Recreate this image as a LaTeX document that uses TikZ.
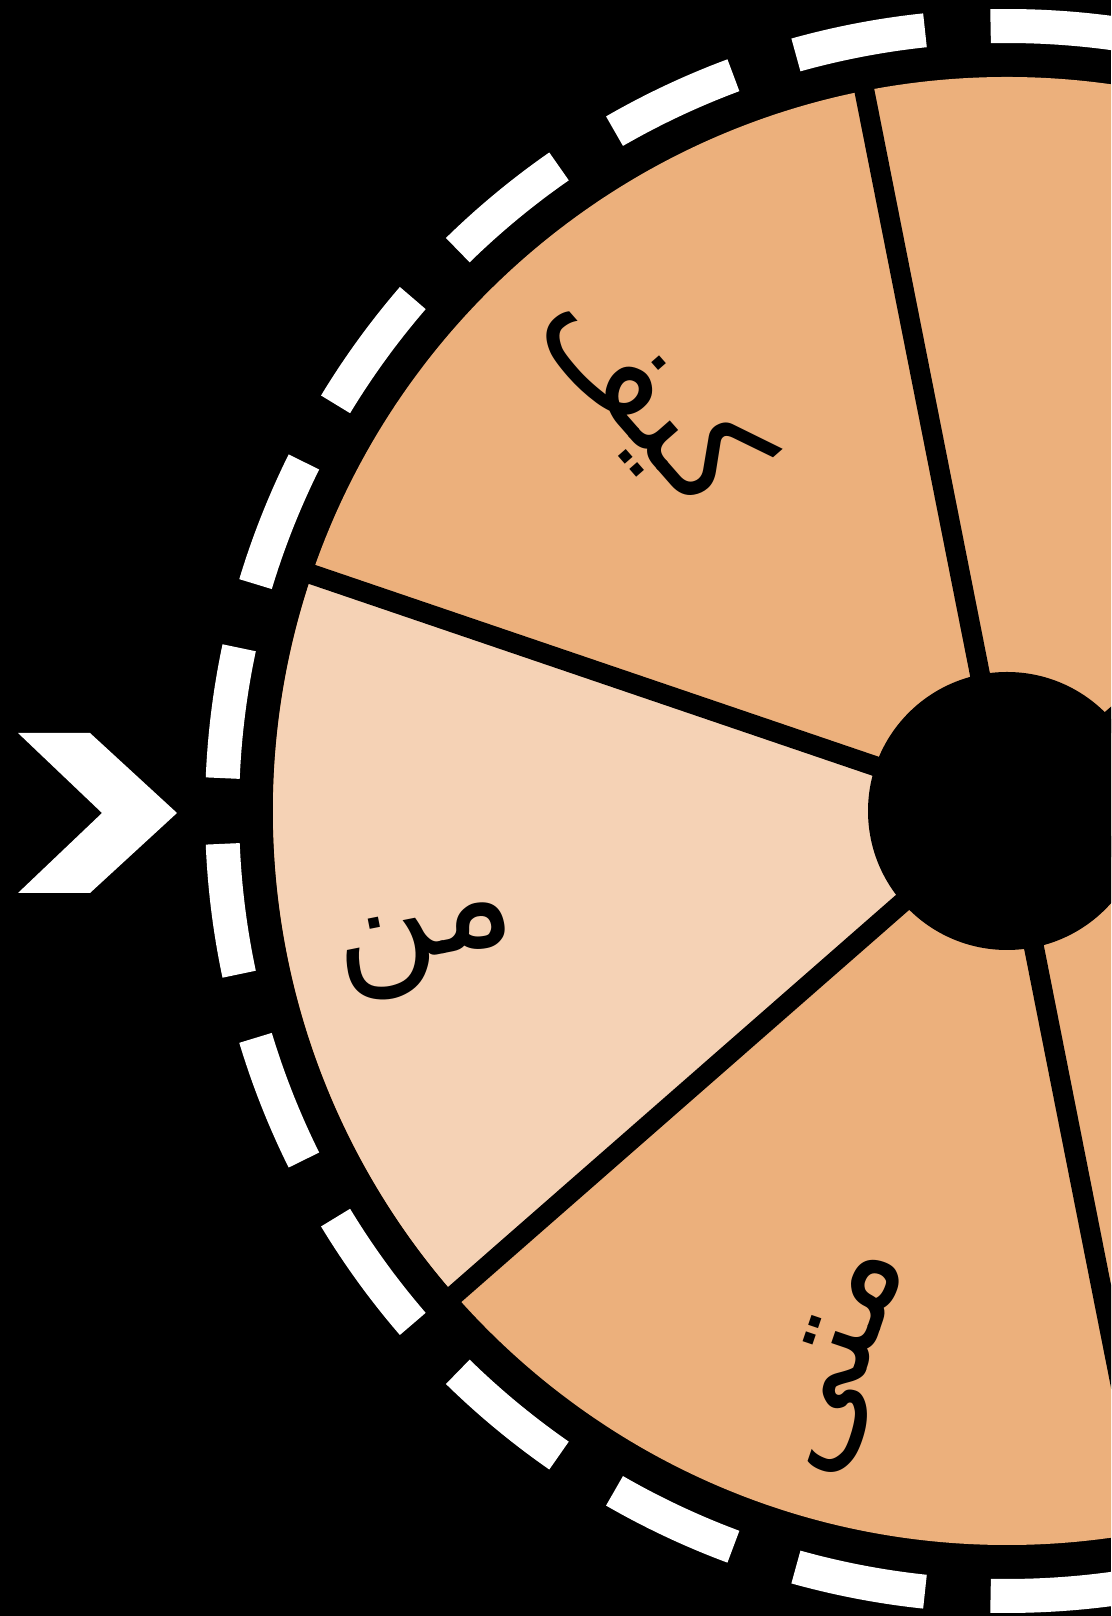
\documentclass[tikz,border=0pt]{standalone}
\usepackage{fontspec}
\newfontfamily\arabicfont[Script=Arabic]{DejaVu Sans}
\TeXXeTstate=1
\usetikzlibrary{calc}
\definecolor{segorange}{HTML}{ECB07C}
\definecolor{seglight}{HTML}{F5D2B5}

\begin{document}
\begin{tikzpicture}[x=1pt, y=1pt,
  divider/.style={draw=black, line width=20pt},
  dashring/.style={draw=white, line width=34pt},
  word/.style={font=\arabicfont\fontsize{142}{142}\selectfont, inner sep=0pt},
]
  \fill[black] (0,0) rectangle (1111,1616);
  \useasboundingbox (0,0) rectangle (1111,1616);
  \clip (0,0) rectangle (1111,1616);
  \coordinate (c) at (1007,805);

  % wheel and the picked slice
  \fill[segorange] (c) circle (734);
  \fill[seglight] (c) -- ++(161.2:734) arc (161.2:221.2:734) -- cycle;
  \foreach \a in {41.2,101.2,...,341.2}
    \draw[divider] (c) -- ++(\a:740);
  \fill[black] (c) circle (139);

  % dashed rim
  \foreach \k in {0,...,24}
    \draw[dashring] (c) ++({182.4+14.4*\k}:785) arc ({182.4+14.4*\k}:{192+14.4*\k}:785);

  % words
  \node[word, rotate=-48.8] (kayfa) at ($(c)+(130.6:548)$) {\beginR كيف\endR};
  \node[word, rotate=11.2]  (man)   at ($(c)+(193.5:596)$) {\beginR من\endR};
  \node[word, rotate=71.2]  (mata)  at ($(c)+(253.4:575)$) {\beginR متى\endR};

  % pointer
  \fill[white] (18,883) -- (90,883) -- (177,803) -- (90,723) -- (18,723) -- (102,803) -- cycle;
\end{tikzpicture}
\end{document}
